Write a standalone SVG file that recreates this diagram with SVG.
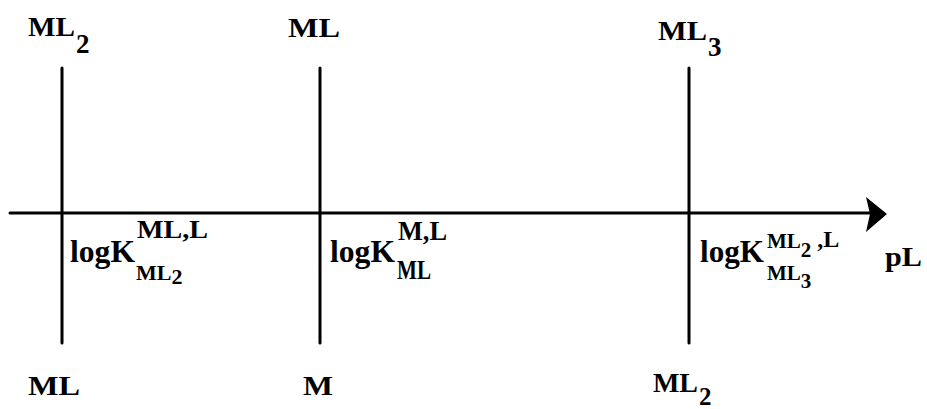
<svg xmlns="http://www.w3.org/2000/svg" width="927" height="409" viewBox="0 0 927 409">
<style>
.t{font-family:"Liberation Serif","Times New Roman",serif;font-weight:bold;fill:#000}
.ln{stroke:#000;stroke-width:3;stroke-linecap:round;fill:none}
</style>
<rect width="927" height="409" fill="#fff"/>
<g id="axis">
<line class="ln" x1="10" y1="213" x2="870" y2="213"/>
<polygon points="866,197 887,214 866,232 870,214" fill="#000"/>
<text class="t" x="885" y="266" font-size="28" textLength="37" lengthAdjust="spacingAndGlyphs">pL</text>
</g>
<g id="connectors">
<line class="ln" x1="62" y1="68" x2="62" y2="343"/>
<line class="ln" x1="320" y1="68" x2="320" y2="343"/>
<line class="ln" x1="689" y1="68" x2="689" y2="343"/>
</g>
<g id="boundary1">
<text class="t" x="28" y="36" font-size="27" textLength="47" lengthAdjust="spacingAndGlyphs">ML</text>
<text class="t" x="76" y="53" font-size="27">2</text>
<text class="t" x="28" y="395" font-size="27" textLength="52" lengthAdjust="spacingAndGlyphs">ML</text>
<text class="t" x="70" y="262" font-size="31" textLength="65" lengthAdjust="spacingAndGlyphs">logK</text>
<text class="t" x="137" y="238" font-size="26" textLength="71" lengthAdjust="spacingAndGlyphs">ML,L</text>
<text class="t" x="136" y="280" font-size="22">ML<tspan dy="4">2</tspan></text>
</g>
<g id="boundary2">
<text class="t" x="288" y="37" font-size="27" textLength="52" lengthAdjust="spacingAndGlyphs">ML</text>
<text class="t" x="303" y="395" font-size="27" textLength="30" lengthAdjust="spacingAndGlyphs">M</text>
<text class="t" x="330" y="262" font-size="31" textLength="65" lengthAdjust="spacingAndGlyphs">logK</text>
<text class="t" x="398" y="240" font-size="27" textLength="49" lengthAdjust="spacingAndGlyphs">M,L</text>
<text class="t" x="397" y="279" font-size="27" textLength="34" lengthAdjust="spacingAndGlyphs">ML</text>
</g>
<g id="boundary3">
<text class="t" x="658" y="40" font-size="27" textLength="49" lengthAdjust="spacingAndGlyphs">ML</text>
<text class="t" x="708" y="56" font-size="27">3</text>
<text class="t" x="653" y="392" font-size="27" textLength="45" lengthAdjust="spacingAndGlyphs">ML</text>
<text class="t" x="699" y="405" font-size="25">2</text>
<text class="t" x="700" y="262" font-size="31" textLength="64" lengthAdjust="spacingAndGlyphs">logK</text>
<text class="t" x="767" y="248" font-size="21">ML<tspan dy="9">2</tspan><tspan dx="6" dy="-10" font-size="24">,L</tspan></text>
<text class="t" x="767" y="280" font-size="21">ML<tspan dy="8">3</tspan></text>
</g>
</svg>
